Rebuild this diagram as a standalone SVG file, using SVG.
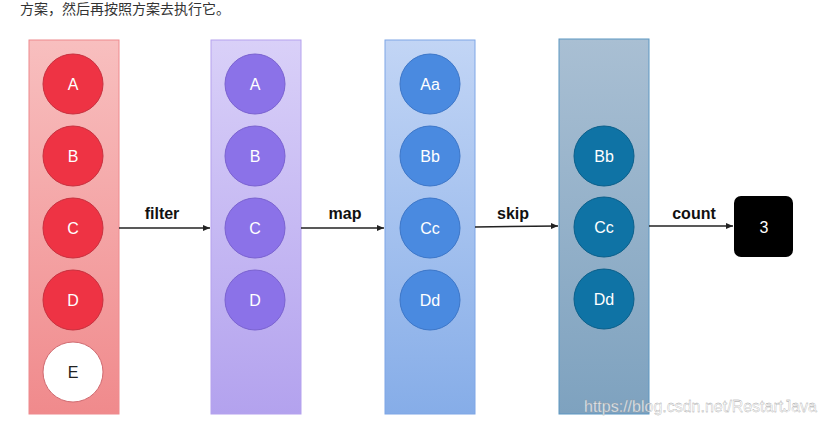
<svg xmlns="http://www.w3.org/2000/svg" width="826" height="426" viewBox="0 0 826 426">
<style>
text{font-family:"Liberation Sans",Arial,sans-serif}
.t{fill:#fff;font-size:16px;text-anchor:middle}
.lbl{font-size:16px;font-weight:bold;fill:#111;text-anchor:middle}
.c1{fill:#ee3344;stroke:#c8303e;stroke-width:1}
.c2{fill:#8b72e8;stroke:#7a62d0;stroke-width:1}
.c3{fill:#4a8ae0;stroke:#3c76c8;stroke-width:1}
.c4{fill:#0f73a5;stroke:#0b5f8a;stroke-width:1}
.ln{stroke:#222;stroke-width:1.5;fill:none}
</style>
<defs>
<linearGradient id="g1" x1="0" y1="0" x2="0" y2="1"><stop offset="0" stop-color="#f8bfbf"/><stop offset="1" stop-color="#f08a8c"/></linearGradient>
<linearGradient id="g2" x1="0" y1="0" x2="0" y2="1"><stop offset="0" stop-color="#d9d0f8"/><stop offset="1" stop-color="#b3a2ee"/></linearGradient>
<linearGradient id="g3" x1="0" y1="0" x2="0" y2="1"><stop offset="0" stop-color="#c2d5f5"/><stop offset="1" stop-color="#86ade8"/></linearGradient>
<linearGradient id="g4" x1="0" y1="0" x2="0" y2="1"><stop offset="0" stop-color="#a9bfd3"/><stop offset="1" stop-color="#7ea2bf"/></linearGradient>
<marker id="ar" markerWidth="8" markerHeight="8" refX="7" refY="4" orient="auto" markerUnits="userSpaceOnUse"><path d="M0,1 L7,4 L0,7 Z" fill="#222"/></marker>
</defs>
<rect width="826" height="426" fill="#fff"/>
<text x="20" y="14" font-size="14" fill="#333" style="font-family:'Liberation Sans','Noto Sans CJK SC',sans-serif">方案，然后再按照方案去执行它。</text>
<g id="col1">
<rect x="29" y="40" width="90" height="374" fill="url(#g1)" stroke="#ee8a8e"/>
<circle class="c1" cx="73" cy="84" r="30"/><text class="t" x="73" y="90">A</text>
<circle class="c1" cx="73" cy="156" r="30"/><text class="t" x="73" y="162">B</text>
<circle class="c1" cx="73" cy="228" r="30"/><text class="t" x="73" y="234">C</text>
<circle class="c1" cx="73" cy="300" r="30"/><text class="t" x="73" y="306">D</text>
<circle cx="73" cy="372" r="30" fill="#fff" stroke="#d06a70"/><text class="t" x="73" y="378" fill="#222" style="fill:#222">E</text>
</g>
<g id="col2">
<rect x="211" y="40" width="90" height="374" fill="url(#g2)" stroke="#b5a2ee"/>
<circle class="c2" cx="255" cy="84" r="30"/><text class="t" x="255" y="90">A</text>
<circle class="c2" cx="255" cy="156" r="30"/><text class="t" x="255" y="162">B</text>
<circle class="c2" cx="255" cy="228" r="30"/><text class="t" x="255" y="234">C</text>
<circle class="c2" cx="255" cy="300" r="30"/><text class="t" x="255" y="306">D</text>
</g>
<g id="col3">
<rect x="385" y="40" width="90" height="374" fill="url(#g3)" stroke="#7ea6e6"/>
<circle class="c3" cx="430" cy="84" r="30"/><text class="t" x="430" y="90">Aa</text>
<circle class="c3" cx="430" cy="156" r="30"/><text class="t" x="430" y="162">Bb</text>
<circle class="c3" cx="430" cy="228" r="30"/><text class="t" x="430" y="234">Cc</text>
<circle class="c3" cx="430" cy="300" r="30"/><text class="t" x="430" y="306">Dd</text>
</g>
<g id="col4">
<rect x="559" y="39" width="90" height="375" fill="url(#g4)" stroke="#5d97c2"/>
<circle class="c4" cx="604" cy="156" r="30"/><text class="t" x="604" y="162">Bb</text>
<circle class="c4" cx="604" cy="227" r="30"/><text class="t" x="604" y="233">Cc</text>
<circle class="c4" cx="604" cy="299" r="30"/><text class="t" x="604" y="305">Dd</text>
</g>
<g id="result">
<rect x="734" y="196" width="59" height="61" rx="7" fill="#000"/>
<text class="t" x="764" y="233">3</text>
</g>
<g id="connectors">
<line class="ln" x1="119" y1="228" x2="210" y2="228" marker-end="url(#ar)"/>
<line class="ln" x1="301" y1="228" x2="384" y2="228" marker-end="url(#ar)"/>
<line class="ln" x1="475" y1="227" x2="558" y2="226" marker-end="url(#ar)"/>
<line class="ln" x1="649" y1="226" x2="733" y2="226" marker-end="url(#ar)"/>
<text class="lbl" x="162" y="219">filter</text>
<text class="lbl" x="345" y="219">map</text>
<text class="lbl" x="513" y="219">skip</text>
<text class="lbl" x="694" y="219">count</text>
</g>
<text x="584" y="412" font-size="16" fill="#fff" fill-opacity="0.8" stroke="#999" stroke-width="0.3">https://blog.csdn.net/RestartJava</text>
</svg>
